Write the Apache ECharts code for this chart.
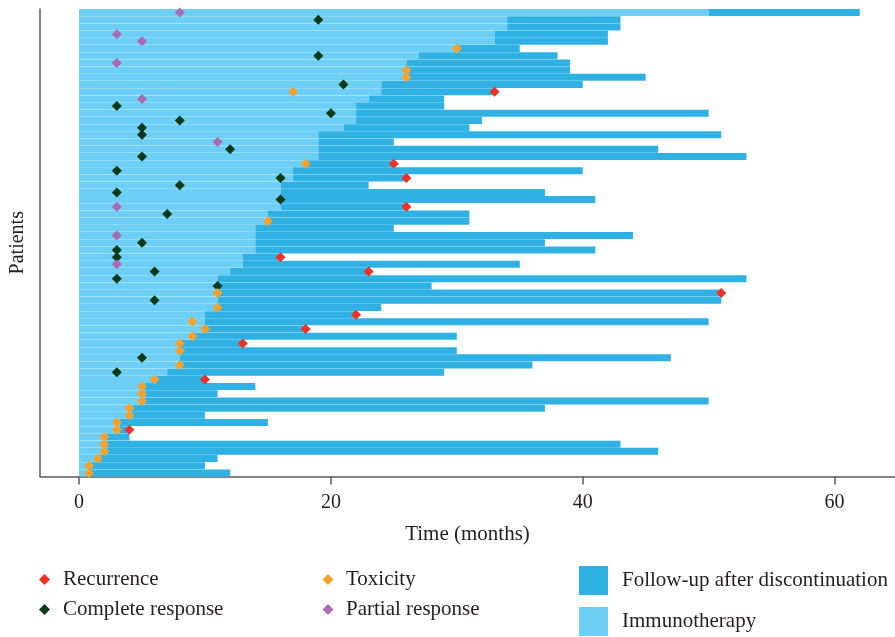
<!DOCTYPE html>
<html>
<head>
<meta charset="utf-8">
<script src="https://cdn.jsdelivr.net/npm/echarts@6/dist/echarts.min.js"></script>
<style>
  html, body { margin: 0; padding: 0; background: #fff; }
  #main { width: 895px; height: 637px; }
</style>
</head>
<body>
<div id="main"></div>
<script>
// patients listed top to bottom
const patients = Array.from({ length: 65 }, (_, i) => 'P' + (i + 1))

// months on immunotherapy
const immunotherapy = [
  50, 34, 34, 33, 33, 30, 27, 26, 26, 26,
  24, 24, 23, 22, 22, 22, 21, 19, 19, 19,
  19, 18, 17, 17, 16, 16, 16, 16, 15, 15,
  14, 14, 14, 14, 13, 13, 12, 11, 11, 11,
  11, 11, 10, 10, 10, 9, 8, 8, 8, 8,
  7, 6, 5.2, 5.2, 5.2, 4.2, 4.2, 3.2, 3.2, 2.2,
  2.2, 2.2, 1.6, 0.8, 0.8
]

// end of follow-up (months)
const followUpEnd = [
  62, 43, 43, 42, 42, 35, 38, 39, 39, 45,
  40, 33, 29, 29, 50, 32, 31, 51, 25, 46,
  53, 25, 40, 26, 23, 37, 41, 26, 31, 31,
  25, 44, 37, 41, 16, 35, 23, 53, 28, 51,
  51, 24, 22, 50, 18, 30, 13, 30, 47, 36,
  29, 10, 14, 11, 50, 37, 10, 15, 4, 4,
  43, 46, 11, 10, 12
]

// events: [patient row (1 = top), month]
const recurrence = [
  [12, 33], [22, 25], [24, 26], [28, 26], [35, 16], [37, 23],
  [40, 51], [43, 22], [45, 18], [47, 13], [52, 10], [59, 4]
]
const completeResponse = [
  [2, 19], [7, 19], [11, 21], [14, 3], [15, 20], [16, 8], [17, 5], [18, 5],
  [20, 12], [21, 5], [23, 3], [24, 16], [25, 8], [26, 3], [27, 16], [29, 7],
  [33, 5], [34, 3], [35, 3], [37, 6], [38, 3], [39, 11], [41, 6], [49, 5], [51, 3]
]
const toxicity = [
  [6, 30], [9, 26], [10, 26], [12, 17], [22, 18], [30, 15], [40, 11], [42, 11],
  [44, 9], [45, 10], [46, 9], [47, 8], [48, 8], [50, 8], [52, 6], [53, 5],
  [54, 5], [55, 5], [56, 4], [57, 4], [58, 3], [59, 3], [60, 2], [61, 2],
  [62, 2], [63, 1.5], [64, 0.8], [65, 0.8]
]
const partialResponse = [
  [1, 8], [4, 3], [5, 5], [8, 3], [13, 5], [19, 11], [28, 3], [32, 3], [36, 3]
]

const xTicks = [0, 20, 40, 60]

const font = 'Liberation Serif'
const textColor = '#231f20'
const axisColor = '#595959'

const followUp = followUpEnd.map((v, i) => +(v - immunotherapy[i]).toFixed(2))
const toPoints = (arr) => arr.map(([row, m]) => [m, row - 1])

const myChart = echarts.init(document.getElementById('main'))

const legendText = (pad) => ({
  fontFamily: font,
  fontSize: 21,
  color: textColor,
  lineHeight: 20,
  padding: [0, 0, 0, pad],
})

const marker = (name, color, points) => ({
  name: name,
  type: 'scatter',
  symbol: 'diamond',
  symbolSize: 10,
  itemStyle: { color: color, opacity: 1 },
  data: toPoints(points),
})

var option = {
  animation: false,
  grid: { left: 40, right: 0, top: 9, bottom: 160.5 },
  legend: [
    {
      data: ['Recurrence', 'Complete response'],
      orient: 'vertical',
      left: 39,
      top: 569,
      padding: 0,
      icon: 'diamond',
      itemWidth: 11,
      itemHeight: 11,
      itemGap: 9,
      textStyle: legendText(8),
    },
    {
      data: ['Toxicity', 'Partial response'],
      orient: 'vertical',
      left: 322.5,
      top: 569,
      padding: 0,
      icon: 'diamond',
      itemWidth: 11,
      itemHeight: 11,
      itemGap: 9,
      textStyle: legendText(7.5),
    },
    {
      data: ['Follow-up after discontinuation', 'Immunotherapy'],
      orient: 'vertical',
      left: 579,
      top: 566,
      height: 71,
      padding: 0,
      icon: 'rect',
      itemWidth: 29,
      itemHeight: 29,
      itemGap: 12,
      textStyle: legendText(9),
    },
  ],
  xAxis: {
    type: 'value',
    min: -3.1,
    max: 64.8,
    name: 'Time (months)',
    nameLocation: 'middle',
    nameGap: 47,
    nameTextStyle: { fontFamily: font, fontSize: 21, color: textColor },
    splitLine: { show: false },
    axisLine: { show: true, onZero: false, lineStyle: { color: axisColor, width: 1.5 } },
    axisTick: { show: true, length: 8, customValues: xTicks, lineStyle: { color: axisColor, width: 1.5 } },
    axisLabel: { customValues: xTicks, fontFamily: font, fontSize: 20, color: textColor, margin: 16 },
  },
  yAxis: {
    type: 'category',
    data: patients,
    inverse: true,
    name: 'Patients',
    nameLocation: 'middle',
    nameGap: 12,
    nameTextStyle: { fontFamily: font, fontSize: 20, color: textColor },
    axisLine: { show: true, onZero: false, lineStyle: { color: axisColor, width: 1.5 } },
    axisTick: { show: false },
    axisLabel: { show: false },
    splitLine: { show: false },
  },
  series: [
    {
      name: 'Immunotherapy',
      type: 'bar',
      stack: 'time',
      barWidth: 7,
      itemStyle: { color: '#6dcff6' },
      data: immunotherapy,
    },
    {
      name: 'Follow-up after discontinuation',
      type: 'bar',
      stack: 'time',
      barWidth: 7,
      itemStyle: { color: '#2fb1e4' },
      data: followUp,
    },
    marker('Recurrence', '#ee3124', recurrence),
    marker('Complete response', '#063a18', completeResponse),
    marker('Toxicity', '#f9a12d', toxicity),
    marker('Partial response', '#a96bb1', partialResponse),
  ],
}

myChart.setOption(option)
</script>
</body>
</html>
